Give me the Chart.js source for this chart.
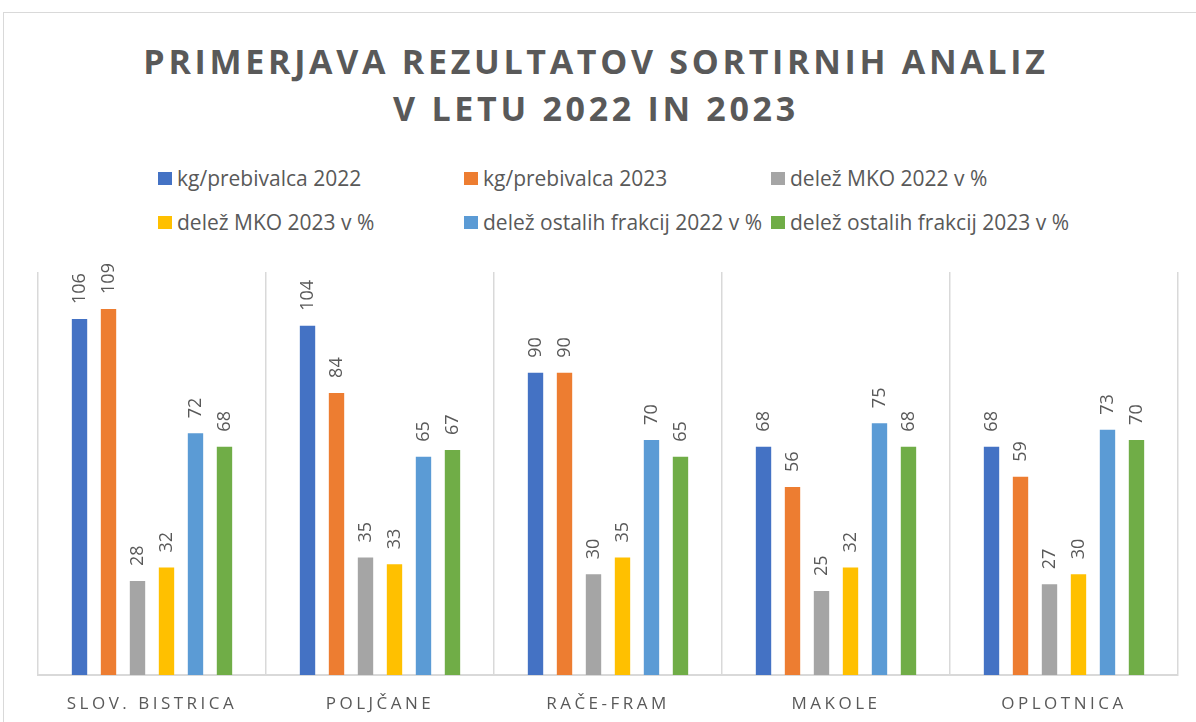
<!DOCTYPE html>
<html>
<head>
<meta charset="utf-8">
<script src="https://cdn.jsdelivr.net/npm/chart.js@4"></script>
<style>
    body { margin: 0; background: #fff; }
    .frame {
        position: relative;
        width: 1196px;
        height: 722px;
        overflow: hidden;
        font-family: 'Open Sans', sans-serif;
        color: #595959;
    }
    .frame .border {
        position: absolute;
        left: 3px; top: 12px; right: -10px; bottom: -10px;
        border: 1px solid #d9d9d9;
    }
    .title {
        position: absolute;
        left: 0; top: 38px; width: 1192px;
        text-align: center;
        font-weight: 700;
        font-size: 34px;
        line-height: 47px;
        letter-spacing: 3.7px;
        margin: 0;
    }
    #legend {
        position: absolute;
        left: 158px; top: 163px;
        display: grid;
        grid-template-columns: 306px 307px 330px;
        row-gap: 14px;
        margin: 0; padding: 0; list-style: none;
        font-size: 21px;
        line-height: 30px;
    }
    #legend li { display: flex; align-items: center; white-space: nowrap; }
    #legend .box { width: 14px; height: 13px; margin-right: 5px; flex: none; }
    .plot { position: absolute; left: 0; top: 240px; width: 1196px; height: 482px; }
</style>
</head>
<body>
<div class="frame">
    <div class="border"></div>
    <h1 class="title">PRIMERJAVA REZULTATOV SORTIRNIH ANALIZ<br>V LETU 2022 IN 2023</h1>
    <ul id="legend"></ul>
    <div class="plot"><canvas id="chart" width="1196" height="482"></canvas></div>
</div>
<script>
// občine
const categories = ['SLOV. BISTRICA', 'POLJČANE', 'RAČE-FRAM', 'MAKOLE', 'OPLOTNICA'];

const seriesNames = [
    'kg/prebivalca 2022',
    'kg/prebivalca 2023',
    'delež MKO 2022 v %',
    'delež MKO 2023 v %',
    'delež ostalih frakcij 2022 v %',
    'delež ostalih frakcij 2023 v %'
];

const kgPrebivalca2022 = [106, 104, 90, 68, 68];
const kgPrebivalca2023 = [109, 84, 90, 56, 59];
const delezMKO2022 = [28, 35, 30, 25, 27];
const delezMKO2023 = [32, 33, 35, 32, 30];
const delezOstalih2022 = [72, 65, 70, 75, 73];
const delezOstalih2023 = [68, 67, 65, 68, 70];

const colors = ['#4472C4', '#ED7D31', '#A5A5A5', '#FFC000', '#5B9BD5', '#70AD47'];

const seriesData = [kgPrebivalca2022, kgPrebivalca2023, delezMKO2022, delezMKO2023, delezOstalih2022, delezOstalih2023];

// vrednosti nad stolpci, obrnjene navpično
const valueLabels = {
    id: 'valueLabels',
    afterDatasetsDraw(chart) {
        const ctx = chart.ctx;
        ctx.save();
        ctx.letterSpacing = '0px';
        ctx.fillStyle = '#595959';
        ctx.font = '18px "Open Sans", sans-serif';
        ctx.textAlign = 'left';
        ctx.textBaseline = 'middle';
        chart.data.datasets.forEach((ds, i) => {
            chart.getDatasetMeta(i).data.forEach((bar, j) => {
                ctx.save();
                ctx.translate(bar.x, bar.y - 15);
                ctx.rotate(-Math.PI / 2);
                ctx.fillText(ds.data[j], 0, 0);
                ctx.restore();
            });
        });
        ctx.restore();
        // razmik črk za oznake kategorij (narisane za stolpci)
        ctx.letterSpacing = '3.5px';
    },
    afterDraw(chart) {
        chart.ctx.letterSpacing = '0px';
    }
};

// legenda v HTML, da so stolpci poravnani
const htmlLegend = {
    id: 'htmlLegend',
    afterUpdate(chart) {
        const ul = document.getElementById('legend');
        ul.innerHTML = '';
        chart.data.datasets.forEach(ds => {
            const li = document.createElement('li');
            const box = document.createElement('span');
            box.className = 'box';
            box.style.background = ds.backgroundColor;
            li.appendChild(box);
            li.appendChild(document.createTextNode(ds.label));
            ul.appendChild(li);
        });
    }
};

const ctx = document.getElementById('chart').getContext('2d');
new Chart(ctx, {
    type: 'bar',
    data: {
        labels: categories,
        datasets: seriesNames.map((name, i) => ({
            label: name,
            data: seriesData[i],
            backgroundColor: colors[i],
            borderWidth: 0,
            categoryPercentage: 0.763,
            barPercentage: 0.53
        }))
    },
    options: {
        responsive: false,
        animation: false,
        layout: { padding: { left: 38, right: 18, top: 32, bottom: 0 } },
        plugins: {
            legend: { display: false },
            title: { display: false },
            tooltip: { enabled: false }
        },
        scales: {
            x: {
                grid: { color: '#d9d9d9', lineWidth: 1.5, offset: true, drawTicks: false },
                border: { color: '#d9d9d9', width: 2 },
                ticks: {
                    z: 1,
                    color: '#595959',
                    font: { family: 'Open Sans', size: 17 },
                    padding: 19,
                    maxRotation: 0,
                    autoSkip: false
                },
                afterFit(scale) { scale.height = 47; }
            },
            y: {
                display: false,
                min: 0,
                max: 120
            }
        }
    },
    plugins: [valueLabels, htmlLegend]
});
</script>
</body>
</html>
